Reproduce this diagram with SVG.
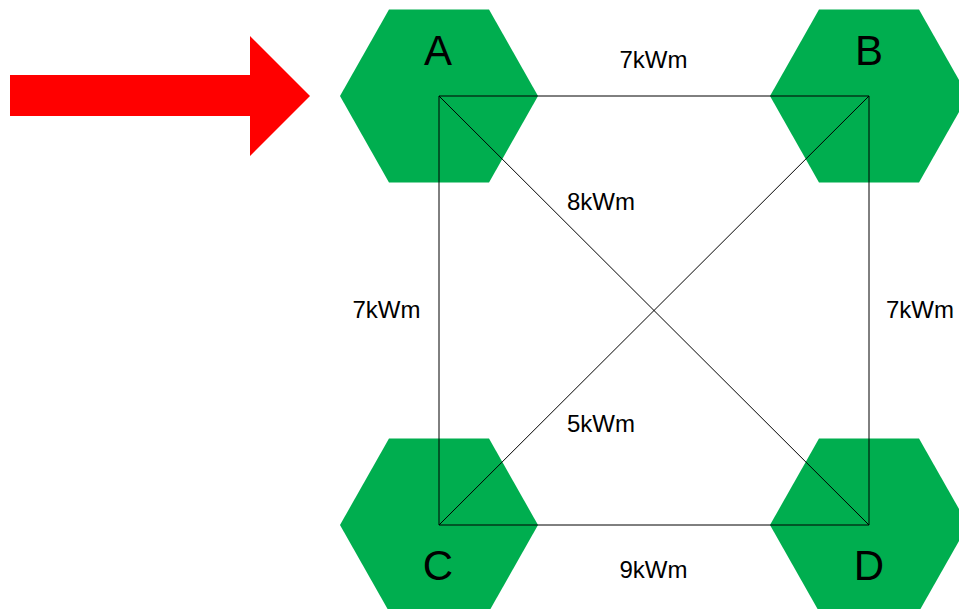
<svg xmlns="http://www.w3.org/2000/svg" width="959" height="609" viewBox="0 0 959 609">
  <defs>
    <style>
      .hex { fill: #00ae4f; }
      .name { font-family: "Liberation Sans", Arial, sans-serif; font-size: 42px; fill: #000; text-anchor: middle; }
      .edge { stroke: #000; stroke-width: 1; fill: none; }
      .weight { font-family: "Liberation Sans", Arial, sans-serif; font-size: 24px; fill: #000; text-anchor: middle; }
    </style>
    <polygon id="hexShape" class="hex" points="-99,0 -50,-86.5 50,-86.5 99,0 50,86.5 -50,86.5"/>
  </defs>
  <rect width="959" height="609" fill="#fff"/>

  <!-- entry arrow -->
  <polygon id="start-arrow" points="10,75 250,75 250,36 310,96 250,156 250,116 10,116" fill="#ff0000"/>

  <!-- nodes -->
  <g id="node-A">
    <use href="#hexShape" x="439" y="96"/>
    <text class="name" x="438" y="65">A</text>
  </g>
  <g id="node-B">
    <use href="#hexShape" x="869" y="96"/>
    <text class="name" x="869" y="65">B</text>
  </g>
  <g id="node-C">
    <use href="#hexShape" x="439" y="525"/>
    <text class="name" x="438" y="580">C</text>
  </g>
  <g id="node-D">
    <use href="#hexShape" x="869" y="525"/>
    <text class="name" x="869" y="580">D</text>
  </g>

  <!-- connectors -->
  <g id="edges">
    <line class="edge" x1="439" y1="96" x2="869" y2="96"/>
    <line class="edge" x1="439" y1="96" x2="439" y2="525"/>
    <line class="edge" x1="869" y1="96" x2="869" y2="525"/>
    <line class="edge" x1="439" y1="525" x2="869" y2="525"/>
    <line class="edge" x1="439" y1="96" x2="869" y2="525"/>
    <line class="edge" x1="869" y1="96" x2="439" y2="525"/>
    <text class="weight" x="653.5" y="68">7kWm</text>
    <text class="weight" x="601" y="210">8kWm</text>
    <text class="weight" x="386.5" y="318">7kWm</text>
    <text class="weight" x="920" y="318">7kWm</text>
    <text class="weight" x="601" y="432">5kWm</text>
    <text class="weight" x="653.5" y="578">9kWm</text>
  </g>
</svg>
